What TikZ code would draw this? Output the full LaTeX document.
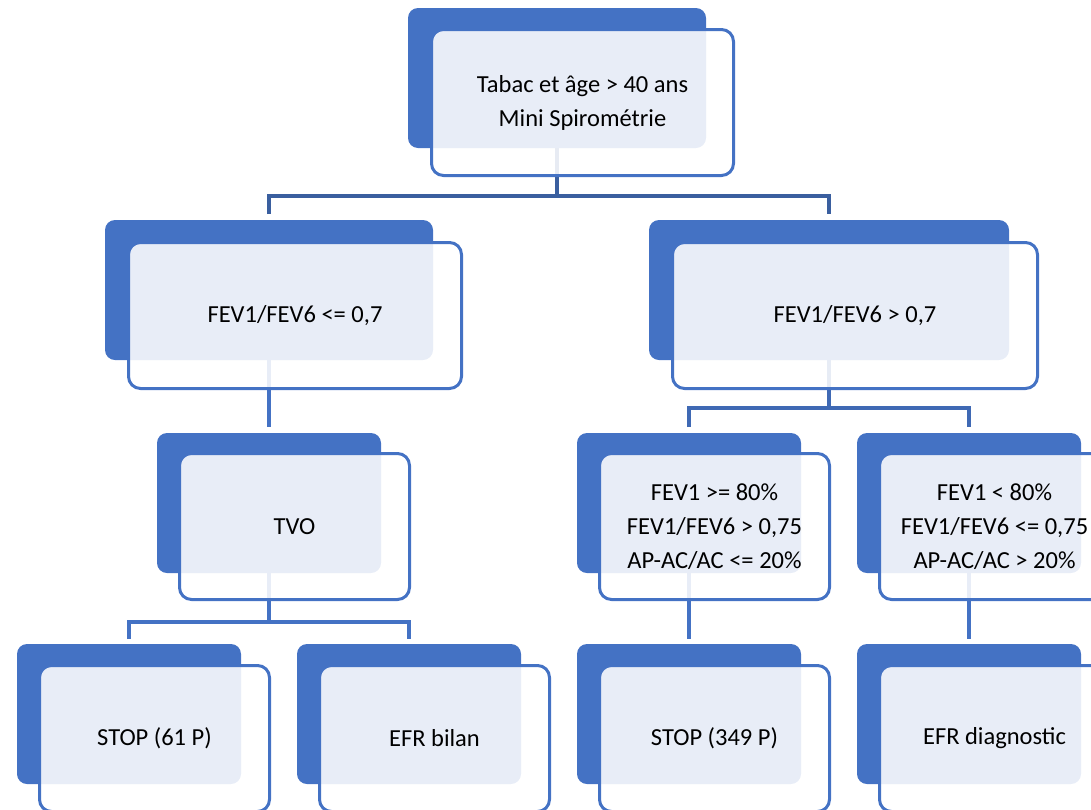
\documentclass[tikz,border=0pt]{standalone}
\usepackage{fontspec}
\setmainfont{Carlito}
\usetikzlibrary{calc}
\pgfdeclarelayer{bg}
\pgfsetlayers{bg,main}
\definecolor{accent}{HTML}{4472C4}
\definecolor{connA}{HTML}{3A5F9F}
\definecolor{connB}{HTML}{3F69B4}
\definecolor{connC}{HTML}{4472C4}
\tikzset{
  backbox/.style={fill=accent, rounded corners=10pt, inner sep=0pt, outer sep=0pt,
    anchor=north west, minimum height=140pt},
  frontbox/.style={draw=accent, line width=3pt, fill=white, fill opacity=0.88, text opacity=1,
    rounded corners=12pt, inner sep=0pt, outer sep=0pt, anchor=north west,
    minimum height=146pt, align=center, text=black,
    font=\fontsize{24.5}{34}\selectfont},
  conn/.style={line width=3.5pt, line join=miter}
}
\begin{document}
\begin{tikzpicture}[x=1pt,y=-1pt]
\useasboundingbox (0,0) rectangle (1091,809);
\clip (0,0) rectangle (1091,809);

% back boxes
\node[backbox, minimum width=298pt] (topB) at (408,8) {};
\node[backbox, minimum width=328pt] (l2lB) at (105,220) {};
\node[backbox, minimum width=360pt] (l2rB) at (649,220) {};
\node[backbox, minimum width=224pt] (tvoB) at (157,433) {};
\node[backbox, minimum width=224pt] (l3aB) at (577,433) {};
\node[backbox, minimum width=224pt] (l3bB) at (857,433) {};
\node[backbox, minimum width=224pt] (l4aB) at (17,644) {};
\node[backbox, minimum width=224pt] (l4bB) at (297,644) {};
\node[backbox, minimum width=224pt] (l4cB) at (577,644) {};
\node[backbox, minimum width=224pt] (l4dB) at (857,644) {};

% front boxes
\node[frontbox, minimum width=302pt] (top) at (431.5,29.5) {Tabac et âge > 40 ans\\Mini Spirométrie};
\node[frontbox, minimum width=333pt] (l2l) at (128.5,242.5) {FEV1/FEV6 <= 0,7};
\node[frontbox, minimum width=365pt] (l2r) at (672.5,242.5) {FEV1/FEV6 > 0,7};
\node[frontbox, minimum width=230pt] (tvo) at (179.5,453.5) {TVO};
\node[frontbox, minimum width=230pt] (l3a) at (599.5,453.5) {FEV1 >= 80\%\\FEV1/FEV6 > 0,75\\AP-AC/AC <= 20\%};
\node[frontbox, minimum width=230pt] (l3b) at (879.5,453.5) {FEV1 < 80\%\\FEV1/FEV6 <= 0,75\\AP-AC/AC > 20\%};
\node[frontbox, minimum width=230pt] (l4a) at (39.5,665.5) {STOP (61 P)};
\node[frontbox, minimum width=230pt] (l4b) at (319.5,665.5) {EFR bilan};
\node[frontbox, minimum width=230pt] (l4c) at (599.5,665.5) {STOP (349 P)};
\node[frontbox, minimum width=230pt] (l4d) at (879.5,665.5) {EFR diagnostic};

% connector ends and junctions
\coordinate (j1) at (557,196);
\coordinate (j2) at (829,408);
\coordinate (j3) at (269,622);
\coordinate (l2lT) at ($(l2lB.north)+(0,-6)$);
\coordinate (l2rT) at ($(l2rB.north)+(0,-6)$);
\coordinate (tvoT) at ($(tvoB.north)+(0,-6)$);
\coordinate (l3aT) at ($(l3aB.north)+(0,-6)$);
\coordinate (l3bT) at ($(l3bB.north)+(0,-6)$);
\coordinate (l4aT) at ($(l4aB.north)+(0,-5)$);
\coordinate (l4bT) at ($(l4bB.north)+(0,-5)$);
\coordinate (l4cT) at ($(l4cB.north)+(0,-5)$);
\coordinate (l4dT) at ($(l4dB.north)+(0,-5)$);

\begin{pgfonlayer}{bg}
\draw[conn, connA] (topB.south) -- (j1);
\draw[conn, connA] (l2lT) |- (j1) -| (l2rT);
\draw[conn, connC] (l2lB.south) -- (tvoT);
\draw[conn, connB] (l2rB.south) -- (j2);
\draw[conn, connB] (l3aT) |- (j2) -| (l3bT);
\draw[conn, connC] (tvoB.south) -- (j3);
\draw[conn, connC] (l4aT) |- (j3) -| (l4bT);
\draw[conn, connC] (l3aB.south) -- (l4cT);
\draw[conn, connC] (l3bB.south) -- (l4dT);
\end{pgfonlayer}
\end{tikzpicture}
\end{document}
